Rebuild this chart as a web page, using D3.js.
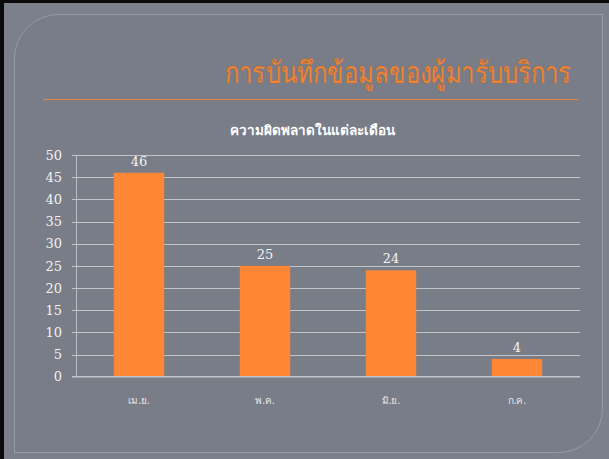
<!DOCTYPE html>
<html>
<head>
<meta charset="utf-8">
<script src="https://cdn.jsdelivr.net/npm/d3@7"></script>
<style>
  html, body { margin: 0; padding: 0; background: #7b808b; }
  svg { display: block; }
</style>
</head>
<body>
<script>
// chart data
var categories = ["เม.ย.", "พ.ค.", "มิ.ย.", "ก.ค."];
var values = [46, 25, 24, 4];
var yTicks = [0, 5, 10, 15, 20, 25, 30, 35, 40, 45, 50];
var slideTitle = "การบันทึกข้อมูลของผู้มารับบริการ";
var chartTitle = "ความผิดพลาดในแต่ละเดือน";

var W = 609, H = 459;
var svg = d3.select("body").append("svg")
    .attr("width", W)
    .attr("height", H);

// slide background
svg.append("rect")
    .attr("width", W).attr("height", H)
    .attr("fill", "#7b808b");

// black frame on left / top
svg.append("rect").attr("x", 0).attr("y", 0).attr("width", 4).attr("height", H).attr("fill", "#0a0a0a");
svg.append("rect").attr("x", 0).attr("y", 0).attr("width", W).attr("height", 3).attr("fill", "#0a0a0a");

// inner panel: rounded top-left and bottom-right corners
var px0 = 14.5, py0 = 14.5, px1 = 602.5, py1 = 452.5, r = 44;
var p = d3.path();
p.moveTo(px0 + r, py0);
p.lineTo(px1, py0);
p.lineTo(px1, py1 - r);
p.arcTo(px1, py1, px1 - r, py1, r);
p.lineTo(px0, py1);
p.lineTo(px0, py0 + r);
p.arcTo(px0, py0, px0 + r, py0, r);
p.closePath();
svg.append("path")
    .attr("d", p.toString())
    .attr("fill", "#787d88")
    .attr("stroke", "#979ba3")
    .attr("stroke-width", 1);

// slide title, squeezed horizontally to the narrow look of the slide font
var tg = svg.append("g");
var tt = tg.append("text")
    .attr("x", 0).attr("y", 0)
    .attr("font-family", "'Noto Sans', 'DejaVu Sans', sans-serif")
    .attr("font-size", 30)
    .attr("fill", "#f38a3a")
    .attr("stroke", "#c4692a")
    .attr("stroke-width", 0.5)
    .text(slideTitle);
var tw = tt.node().getComputedTextLength();
var sx = 348 / tw;
tg.attr("transform", "translate(" + (573 - 348) + ",83) scale(" + sx + ",1)");

svg.append("line")
    .attr("x1", 43).attr("x2", 578)
    .attr("y1", 99.5).attr("y2", 99.5)
    .attr("stroke", "#e8843c")
    .attr("stroke-width", 1);

// chart title
svg.append("text")
    .attr("x", 312).attr("y", 135)
    .attr("text-anchor", "middle")
    .attr("font-family", "'Noto Sans', 'DejaVu Sans', sans-serif")
    .attr("font-weight", "bold")
    .attr("font-size", 13.5)
    .attr("fill", "#ffffff")
    .text(chartTitle);

// scales
var x = d3.scaleBand()
    .domain(categories)
    .range([76, 580])
    .paddingInner(0.6)
    .paddingOuter(0.3);

var y = d3.scaleLinear()
    .domain([0, 50])
    .range([376.7, 155]);

// gridlines
svg.append("g").selectAll("line")
    .data(yTicks.filter(function(d) { return d > 0; }))
    .join("line")
    .attr("x1", 72).attr("x2", 580)
    .attr("y1", function(d) { return Math.round(y(d)) + 0.5; })
    .attr("y2", function(d) { return Math.round(y(d)) + 0.5; })
    .attr("stroke", "#c3c5ca")
    .attr("stroke-width", 1);

// y axis line
svg.append("line")
    .attr("x1", 76.5).attr("x2", 76.5)
    .attr("y1", y(50)).attr("y2", y(0))
    .attr("stroke", "#b9bcc2")
    .attr("stroke-width", 1);

// y tick labels
svg.append("g").selectAll("text")
    .data(yTicks)
    .join("text")
    .attr("x", 62)
    .attr("y", function(d) { return y(d); })
    .attr("dy", "0.36em")
    .attr("text-anchor", "end")
    .attr("font-family", "'DejaVu Serif', serif")
    .attr("font-size", 13)
    .attr("fill", "#f2f2f2")
    .text(function(d) { return d; });

// bars
svg.append("g").selectAll("rect")
    .data(values)
    .join("rect")
    .attr("x", function(d, i) { return x(categories[i]); })
    .attr("y", function(d) { return y(d); })
    .attr("width", x.bandwidth())
    .attr("height", function(d) { return y(0) - y(d); })
    .attr("fill", "#fd8734");

// x axis line
svg.append("line")
    .attr("x1", 72).attr("x2", 580)
    .attr("y1", y(0)).attr("y2", y(0))
    .attr("stroke", "#c3c5ca")
    .attr("stroke-width", 1.5);

// value labels
svg.append("g").selectAll("text")
    .data(values)
    .join("text")
    .attr("x", function(d, i) { return x(categories[i]) + x.bandwidth() / 2; })
    .attr("y", function(d) { return y(d) - 7; })
    .attr("text-anchor", "middle")
    .attr("font-family", "'DejaVu Serif', serif")
    .attr("font-size", 13)
    .attr("fill", "#f4f4f4")
    .text(function(d) { return d; });

// category labels
svg.append("g").selectAll("text")
    .data(categories)
    .join("text")
    .attr("x", function(d) { return x(d) + x.bandwidth() / 2; })
    .attr("y", 404)
    .attr("text-anchor", "middle")
    .attr("font-family", "'Noto Sans', 'DejaVu Sans', sans-serif")
    .attr("font-size", 10)
    .attr("fill", "#e6e6e6")
    .text(function(d) { return d; });
</script>
</body>
</html>
